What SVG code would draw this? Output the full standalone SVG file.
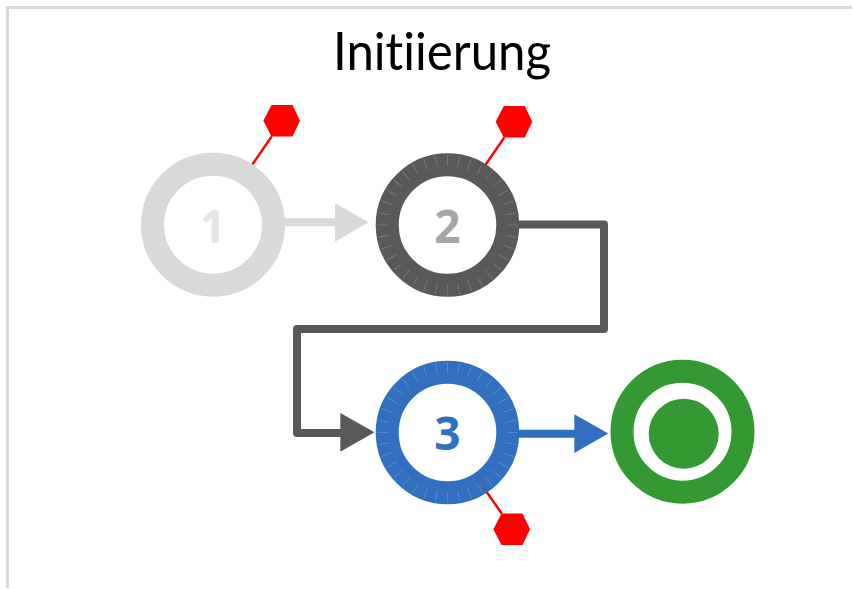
<svg xmlns="http://www.w3.org/2000/svg" width="853" height="589" viewBox="0 0 853 589">
  <defs>
    <style>
      .ring { fill: none; stroke-width: 23; }
      .ticks { fill: none; stroke: #fff; stroke-opacity: 0.32; stroke-width: 11; stroke-dasharray: 0.045 0.955; stroke-dashoffset: 0.0225; }
      .num { font-family: "Open Sans", "Noto Sans", sans-serif; font-weight: 700; font-size: 46px; text-anchor: middle; }
      .pin { stroke: #f00; stroke-width: 2.4; fill: none; }
      .hex { fill: #f00; }
      .title { font-family: "Lato", "Liberation Sans", sans-serif; font-size: 52px; fill: #000; font-variant-ligatures: none; }
      .edge { fill: none; stroke-width: 8; stroke-linejoin: round; stroke-linecap: butt; }
    </style>
    <polygon id="hexagon" points="-18.3,0 -10.2,-15.8 10.8,-15.8 18.3,0 10.8,15.8 -10.2,15.8"/>
  </defs>
  <rect width="853" height="589" fill="#fff"/>
  <path id="frame" d="M7.5 588V7.5H852" fill="none" stroke="#d9d9d9" stroke-width="3"/>
  <text id="title" class="title" x="333" y="70" textLength="218" lengthAdjust="spacingAndGlyphs">Initiierung</text>

  <g id="connectors">
    <path class="edge" stroke="#d9d9d9" d="M283 222.3H337"/>
    <polygon fill="#d9d9d9" points="335,203 368.5,222.3 335,241.7"/>
    <path class="edge" stroke="#595959" d="M517 224.5H604V329H297V433H342"/>
    <polygon fill="#595959" points="340.3,413 374.5,432.3 340.3,451.7"/>
    <path class="edge" stroke="#3070bf" d="M517 433.8H576"/>
    <polygon fill="#3070bf" points="574.3,414.3 608.3,433.6 574.3,453"/>
  </g>

  <g id="node-1">
    <path class="pin" d="M271.7 136.5L252.3 164.5"/>
    <use href="#hexagon" class="hex" x="281.7" y="120.8"/>
    <circle class="ring" cx="213" cy="224.7" r="60.5" stroke="#d9d9d9"/>
    <text class="num" x="213" y="242.7" fill="#e6e6e6">1</text>
  </g>

  <g id="node-2">
    <path class="pin" d="M504.3 137.5L485.7 164.5"/>
    <use href="#hexagon" class="hex" x="514" y="121.8"/>
    <circle class="ring" cx="447.5" cy="225" r="60.3" stroke="#595959"/>
    <circle class="ticks" cx="447.5" cy="225" r="64.5" pathLength="36"/>
    <text class="num" x="447.5" y="242.7" fill="#a6a6a6">2</text>
  </g>

  <g id="node-3">
    <path class="pin" d="M501.7 513.5L486 491"/>
    <use href="#hexagon" class="hex" x="511.7" y="529.2"/>
    <circle class="ring" cx="447.5" cy="432.5" r="60.3" stroke="#3070bf"/>
    <circle class="ticks" cx="447.5" cy="432.5" r="64.5" pathLength="36"/>
    <path d="M481.7 482.3L487.5 490.5" stroke="#7a4a80" stroke-width="1" fill="none"/>
    <text class="num" x="447.5" y="450" fill="#3070bf">3</text>
  </g>

  <g id="node-end">
    <circle cx="682.5" cy="431.7" r="60.5" fill="none" stroke="#339933" stroke-width="23"/>
    <circle cx="683.7" cy="433.7" r="35" fill="#339933"/>
  </g>
</svg>
